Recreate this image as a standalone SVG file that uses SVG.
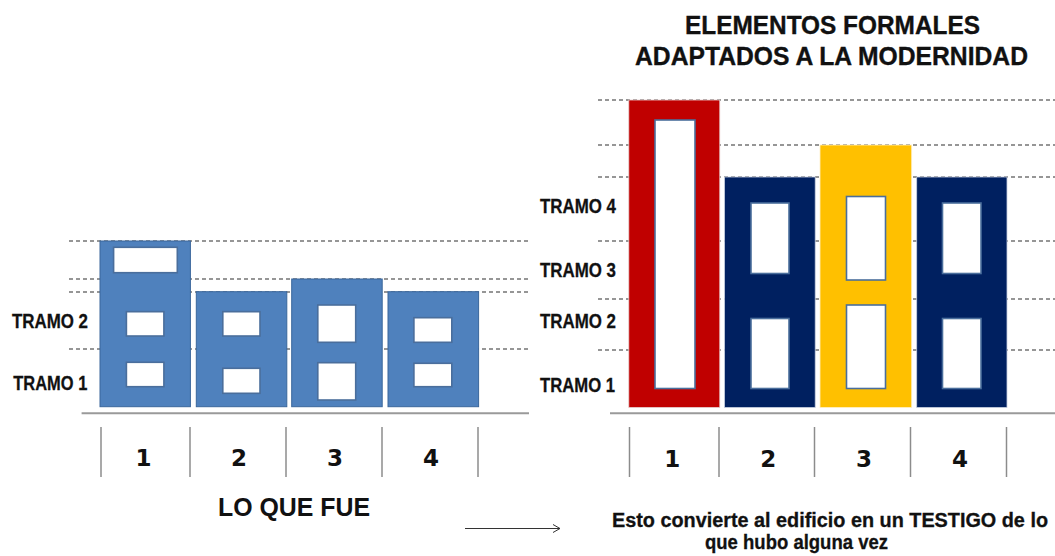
<svg xmlns="http://www.w3.org/2000/svg" width="1055" height="556" viewBox="0 0 1055 556">
<defs>
<style>
.dash{stroke:#2e2e2e;stroke-width:1.1;stroke-dasharray:4 3;fill:none}
.ground{stroke:#9a9a9a;stroke-width:2;fill:none}
.tick{stroke:#8c8c8c;stroke-width:1.5;fill:none}
.blue{fill:#4F81BD;stroke:#3A679C;stroke-width:1}
.red{fill:#C00000;stroke:#e8d0d0;stroke-width:0.8}
.navy{fill:#002060;stroke:#c8d0e0;stroke-width:0.8}
.yellow{fill:#FFC000;stroke:#fff0c8;stroke-width:0.8}
.win{fill:#ffffff;stroke:#4A6E9C;stroke-width:1.6}
.lbl{font-family:"Liberation Sans",Arial,sans-serif;font-weight:bold;font-size:20.5px;fill:#111;stroke:#111;stroke-width:0.3}
.num{font-family:"DejaVu Sans",Verdana,sans-serif;font-weight:bold;font-size:23px;fill:#111;text-anchor:middle}
.title{font-family:"Liberation Sans",Arial,sans-serif;font-weight:bold;font-size:26px;fill:#111;stroke:#111;stroke-width:0.35}
.cap{font-family:"Liberation Sans",Arial,sans-serif;font-weight:bold;font-size:25px;fill:#111}
.note{font-family:"Liberation Sans",Arial,sans-serif;font-weight:bold;font-size:20px;fill:#111;stroke:#111;stroke-width:0.3}
</style>
<marker id="arr" markerWidth="10" markerHeight="10" refX="8" refY="5" orient="auto" markerUnits="userSpaceOnUse">
<path d="M1,1 L8,5 L1,9" fill="none" stroke="#333" stroke-width="1"/>
</marker>
</defs>
<rect width="1055" height="556" fill="#ffffff"/>

<g id="guides">
<line class="dash" x1="69" y1="241" x2="529" y2="241"/>
<line class="dash" x1="69" y1="279" x2="529" y2="279"/>
<line class="dash" x1="69" y1="292" x2="529" y2="292"/>
<line class="dash" x1="69" y1="349" x2="529" y2="349"/>
<line class="dash" x1="598" y1="100" x2="1055" y2="100"/>
<line class="dash" x1="598" y1="145" x2="1055" y2="145"/>
<line class="dash" x1="598" y1="177" x2="1055" y2="177"/>
<line class="dash" x1="598" y1="241" x2="1055" y2="241"/>
<line class="dash" x1="598" y1="299" x2="1055" y2="299"/>
<line class="dash" x1="598" y1="350" x2="1055" y2="350"/>
</g>

<g id="left-b1">
<rect class="blue" x="100" y="241" width="90.4" height="165.7"/>
<rect class="win" x="113.6" y="247.3" width="63.7" height="25.4"/>
<rect class="win" x="126.4" y="311.7" width="37.5" height="24.3"/>
<rect class="win" x="126.4" y="362.3" width="37.5" height="24.4"/>
</g>
<g id="left-b2">
<rect class="blue" x="196.3" y="291.7" width="90.5" height="115"/>
<rect class="win" x="222.8" y="311.7" width="37.2" height="24.3"/>
<rect class="win" x="222.8" y="368.3" width="37.2" height="25"/>
</g>
<g id="left-b3">
<rect class="blue" x="291.7" y="279" width="90.5" height="127.7"/>
<rect class="win" x="317.8" y="305" width="37.9" height="37.3"/>
<rect class="win" x="317.8" y="362.7" width="37.9" height="37.3"/>
</g>
<g id="left-b4">
<rect class="blue" x="388" y="291.7" width="90.6" height="115"/>
<rect class="win" x="413.9" y="317.7" width="37.9" height="24.6"/>
<rect class="win" x="413.9" y="363.3" width="37.9" height="23.4"/>
</g>

<g id="right-b1">
<rect class="red" x="628.8" y="100" width="91" height="307.5"/>
<rect class="win" x="655" y="120" width="40" height="268.5"/>
</g>
<g id="right-b2">
<rect class="navy" x="724.5" y="177" width="90.7" height="230.5"/>
<rect class="win" x="751" y="203" width="38" height="70.5"/>
<rect class="win" x="751" y="318.5" width="38" height="70"/>
</g>
<g id="right-b3">
<rect class="yellow" x="820" y="145" width="91.7" height="262.5"/>
<rect class="win" x="846.5" y="196.5" width="39" height="83.5"/>
<rect class="win" x="846.5" y="305" width="39" height="83.5"/>
</g>
<g id="right-b4">
<rect class="navy" x="916.7" y="177" width="90.3" height="230.5"/>
<rect class="win" x="942.5" y="203" width="38.5" height="70.5"/>
<rect class="win" x="942.5" y="318.5" width="38.5" height="70"/>
</g>

<g id="axes">
<line class="ground" x1="81.6" y1="413.3" x2="529" y2="413.3"/>
<line class="ground" x1="610" y1="413.3" x2="1055" y2="413.3"/>
<line class="tick" x1="101" y1="427" x2="101" y2="477"/>
<line class="tick" x1="190" y1="427" x2="190" y2="477"/>
<line class="tick" x1="286" y1="427" x2="286" y2="477"/>
<line class="tick" x1="382" y1="427" x2="382" y2="477"/>
<line class="tick" x1="478" y1="427" x2="478" y2="477"/>
<line class="tick" x1="629.5" y1="427" x2="629.5" y2="477"/>
<line class="tick" x1="719" y1="427" x2="719" y2="477"/>
<line class="tick" x1="814.5" y1="427" x2="814.5" y2="477"/>
<line class="tick" x1="910.5" y1="427" x2="910.5" y2="477"/>
<line class="tick" x1="1006.5" y1="427" x2="1006.5" y2="477"/>
</g>

<g id="labels">
<text class="lbl" x="12" y="328.3" textLength="76" lengthAdjust="spacingAndGlyphs">TRAMO 2</text>
<text class="lbl" x="13.3" y="390.3" textLength="74" lengthAdjust="spacingAndGlyphs">TRAMO 1</text>
<text class="lbl" x="540" y="213.2" textLength="76" lengthAdjust="spacingAndGlyphs">TRAMO 4</text>
<text class="lbl" x="540" y="276.8" textLength="76" lengthAdjust="spacingAndGlyphs">TRAMO 3</text>
<text class="lbl" x="540" y="328.4" textLength="76" lengthAdjust="spacingAndGlyphs">TRAMO 2</text>
<text class="lbl" x="540" y="392.3" textLength="75" lengthAdjust="spacingAndGlyphs">TRAMO 1</text>
<text class="num" x="143.5" y="465.5">1</text>
<text class="num" x="239" y="465.5">2</text>
<text class="num" x="335" y="465.5">3</text>
<text class="num" x="431" y="465.5">4</text>
<text class="num" x="672.3" y="466.5">1</text>
<text class="num" x="768.3" y="466.5">2</text>
<text class="num" x="864" y="466.5">3</text>
<text class="num" x="960" y="466.5">4</text>
<text class="title" x="685" y="33.5" textLength="295" lengthAdjust="spacingAndGlyphs">ELEMENTOS FORMALES</text>
<text class="title" x="635" y="65" textLength="393" lengthAdjust="spacingAndGlyphs">ADAPTADOS A LA MODERNIDAD</text>
<text class="cap" x="218" y="516" textLength="152" lengthAdjust="spacingAndGlyphs">LO QUE FUE</text>
<text class="note" x="612" y="526.5" textLength="436" lengthAdjust="spacingAndGlyphs">Esto convierte al edificio en un TESTIGO de lo</text>
<text class="note" x="705" y="549" textLength="183" lengthAdjust="spacingAndGlyphs">que hubo alguna vez</text>
</g>

<g id="connectors">
<line x1="465" y1="528.5" x2="560" y2="528.5" stroke="#333" stroke-width="1" marker-end="url(#arr)"/>
</g>
</svg>
